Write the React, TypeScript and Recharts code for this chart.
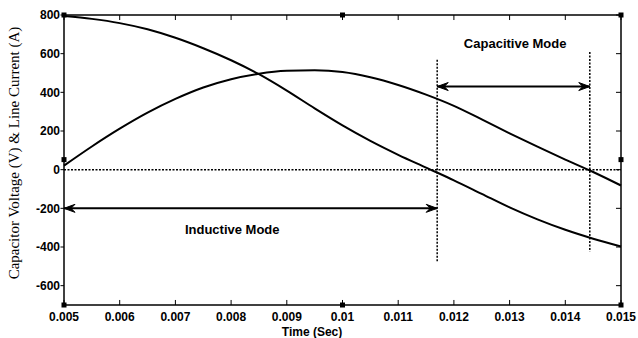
import {
  ComposedChart,
  Line,
  Scatter,
  XAxis,
  YAxis,
  ReferenceLine,
  ReferenceDot,
} from 'recharts'

// time axis (s)
const times = [
  0.005, 0.0055, 0.006, 0.0065, 0.007, 0.0075, 0.008, 0.0085, 0.009, 0.0095, 0.01,
  0.0105, 0.011, 0.0115, 0.012, 0.0125, 0.013, 0.0135, 0.014, 0.0145, 0.015,
]
// capacitor voltage (V)
const voltage = [
  795, 780, 758, 726, 682, 628, 566, 494, 409, 317, 229,
  149, 77, 11, -55, -125, -195, -257, -311, -357, -397,
]
// line current (A)
const current = [
  21, 120, 212, 295, 366, 425, 468, 496, 511, 514, 505,
  478, 438, 388, 330, 260, 188, 119, 52, -12, -82,
]

const xTicks = [0.005, 0.006, 0.007, 0.008, 0.009, 0.01, 0.011, 0.012, 0.013, 0.014, 0.015]
const yTicks = [-600, -400, -200, 0, 200, 400, 600, 800]
const xRange: [number, number] = [0.005, 0.015]
const yRange: [number, number] = [-700, 800]

// mode boundaries
const inductiveArrow = [{ t: 0.005, v: -200 }, { t: 0.0117, v: -200 }]
const capacitiveArrow = [{ t: 0.0117, v: 430 }, { t: 0.01444, v: 430 }]
const leftBoundary = { t: 0.0117, top: 568, bottom: -478 }
const rightBoundary = { t: 0.01444, top: 609, bottom: -425 }

// little squares drawn on the frame
const frameMarks = [
  { t: 0.005, v: 800 }, { t: 0.01, v: 800 }, { t: 0.015, v: 800 },
  { t: 0.005, v: 52 }, { t: 0.015, v: 52 },
  { t: 0.005, v: -700 }, { t: 0.01, v: -700 }, { t: 0.015, v: -700 },
]

const data = times.map((t, i) => ({ t, voltage: voltage[i], current: current[i] }))

const tickFont = { fontFamily: 'Liberation Sans, Arial, sans-serif', fontSize: 12, fontWeight: 700, fill: '#000' }
const dotted = '2 1.5'

// tick lengths expressed in axis units (~5px)
const xTickLen = 0.00009
const yTickLen = 26

function ArrowHead(props: any) {
  const { cx, cy, index } = props
  if (cx == null || cy == null) return null
  const d = index === 0 ? -1 : 1
  return (
    <path
      d={`M${cx},${cy} L${cx - d * 11},${cy - 4} L${cx - d * 7},${cy} L${cx - d * 11},${cy + 4} Z`}
      fill="#000"
      stroke="#000"
      strokeWidth={1}
    />
  )
}

function Square(props: any) {
  const { cx, cy } = props
  return <rect x={cx - 2.5} y={cy - 2.5} width={5} height={5} fill="#000" />
}

export default function App() {
  const seg = (x1: number, y1: number, x2: number, y2: number, key: string, w = 1) => (
    <ReferenceLine
      key={key}
      segment={[{ x: x1, y: y1 }, { x: x2, y: y2 }]}
      stroke="#000"
      strokeWidth={w}
      ifOverflow="visible"
    />
  )

  return (
    <div style={{ position: 'absolute', left: 0, top: 0, width: 638, height: 338, background: '#fff' }}>
      <ComposedChart width={638} height={338} data={data} margin={{ top: 15, right: 17, bottom: 0, left: 0 }}>
        <XAxis
          dataKey="t"
          type="number"
          domain={xRange}
          ticks={xTicks}
          height={33}
          axisLine={false}
          tickLine={false}
          tickSize={0}
          tickMargin={7}
          tick={tickFont}
          label={{
            value: 'Time (Sec)',
            content: (p: any) => (
              <text x={312} y={p.viewBox.y + 31} textAnchor="middle" style={tickFont}>
                Time (Sec)
              </text>
            ),
          }}
        />
        <YAxis
          type="number"
          domain={yRange}
          ticks={yTicks}
          width={64}
          axisLine={false}
          tickLine={false}
          tickSize={0}
          tickMargin={4}
          tick={tickFont}
          label={{
            value: 'Capacitor Voltage (V) & Line Current (A)',
            content: (p: any) => {
              const x = p.viewBox.x + 19
              const y = p.viewBox.y + p.viewBox.height / 2 - 7
              return (
                <text
                  x={x}
                  y={y}
                  transform={`rotate(-90 ${x} ${y})`}
                  textAnchor="middle"
                  style={{ fontFamily: 'Liberation Serif, Times New Roman, serif', fontSize: 15, fill: '#000' }}
                >
                  Capacitor Voltage (V) &amp; Line Current (A)
                </text>
              )
            },
          }}
        />

        {/* box frame */}
        {seg(xRange[0], yRange[0], xRange[1], yRange[0], 'fb', 1.5)}
        {seg(xRange[0], yRange[1], xRange[1], yRange[1], 'ft', 1.5)}
        {seg(xRange[0], yRange[0], xRange[0], yRange[1], 'fl', 1.5)}
        {seg(xRange[1], yRange[0], xRange[1], yRange[1], 'fr', 1.5)}

        {/* tick marks: bottom/top/right inward, left outward */}
        {xTicks.map((t) => seg(t, yRange[0], t, yRange[0] + yTickLen, `tb${t}`))}
        {xTicks.map((t) => seg(t, yRange[1], t, yRange[1] - yTickLen, `tt${t}`))}
        {yTicks.map((v) => seg(xRange[1], v, xRange[1] - xTickLen, v, `tr${v}`))}
        {yTicks.map((v) => seg(xRange[0], v, xRange[0] - xTickLen * 0.7, v, `tl${v}`))}

        <ReferenceLine y={0} stroke="#000" strokeWidth={1.5} strokeDasharray={dotted} />
        <ReferenceLine
          segment={[{ x: leftBoundary.t, y: leftBoundary.top }, { x: leftBoundary.t, y: leftBoundary.bottom }]}
          stroke="#000"
          strokeWidth={1.5}
          strokeDasharray={dotted}
        />
        <ReferenceLine
          segment={[{ x: rightBoundary.t, y: rightBoundary.top }, { x: rightBoundary.t, y: rightBoundary.bottom }]}
          stroke="#000"
          strokeWidth={1.5}
          strokeDasharray={dotted}
        />

        <Line type="monotone" dataKey="voltage" stroke="#000" strokeWidth={2} dot={false} isAnimationActive={false} />
        <Line type="monotone" dataKey="current" stroke="#000" strokeWidth={2} dot={false} isAnimationActive={false} />

        <Line
          data={inductiveArrow}
          dataKey="v"
          type="linear"
          stroke="#000"
          strokeWidth={2}
          dot={<ArrowHead />}
          activeDot={false}
          isAnimationActive={false}
        />
        <Line
          data={capacitiveArrow}
          dataKey="v"
          type="linear"
          stroke="#000"
          strokeWidth={2}
          dot={<ArrowHead />}
          activeDot={false}
          isAnimationActive={false}
        />

        <ReferenceDot
          x={0.0131}
          y={655}
          r={0}
          stroke="none"
          label={{ value: 'Capacitive Mode', position: 'center', style: { ...tickFont, fontSize: 13 } }}
        />
        <ReferenceDot
          x={0.00802}
          y={-310}
          r={0}
          stroke="none"
          label={{ value: 'Inductive Mode', position: 'center', style: { ...tickFont, fontSize: 13 } }}
        />

        <Scatter data={frameMarks} dataKey="v" shape={<Square />} isAnimationActive={false} />
      </ComposedChart>
    </div>
  )
}
